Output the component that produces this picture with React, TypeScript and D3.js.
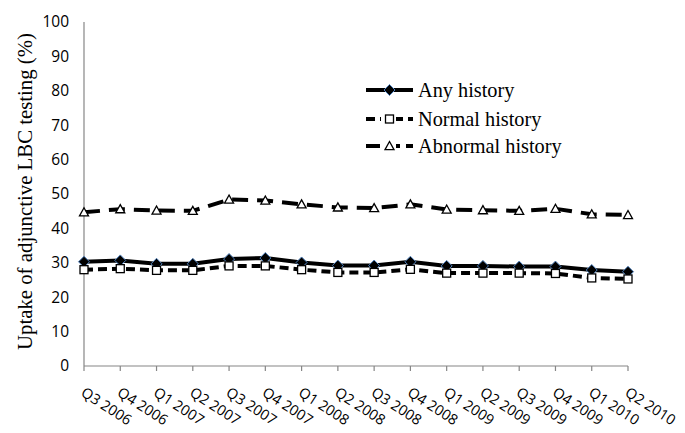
import React from "react";
import * as d3 from "d3";

const quarters = [
  "Q3 2006", "Q4 2006", "Q1 2007", "Q2 2007", "Q3 2007", "Q4 2007", "Q1 2008", "Q2 2008",
  "Q3 2008", "Q4 2008", "Q1 2009", "Q2 2009", "Q3 2009", "Q4 2009", "Q1 2010", "Q2 2010",
];
const anyHistory = [30.3, 30.7, 29.7, 29.7, 31.1, 31.4, 30.1, 29.2, 29.2, 30.3, 29.1, 29.1, 28.9, 28.9, 27.9, 27.4];
const normalHistory = [28.0, 28.3, 27.8, 27.8, 29.1, 29.1, 28.0, 27.2, 27.2, 28.1, 27.0, 27.0, 27.0, 26.9, 25.6, 25.3];
const abnormalHistory = [44.7, 45.6, 45.2, 45.1, 48.4, 48.1, 47.0, 46.1, 45.9, 47.0, 45.5, 45.3, 45.1, 45.7, 44.1, 43.9];
const yTicks = [0, 10, 20, 30, 40, 50, 60, 70, 80, 90, 100];
const seriesNames = ["Any history", "Normal history", "Abnormal history"];

const W = 685, H = 433;
const left = 84, right = 628, top = 22, bottom = 366;

export default function App() {
  const x = d3.scalePoint<string>().domain(quarters).range([left, right]);
  const y = d3.scaleLinear().domain([0, 100]).range([bottom, top]);
  const line = d3.line<number>().x((_, i) => x(quarters[i])!).y((d) => y(d));
  const axisColor = "#868686";
  const sans = "'Open Sans', 'Noto Sans', sans-serif";
  const serif = "'Liberation Serif', 'Times New Roman', serif";

  const series = [
    { name: seriesNames[0], data: anyHistory, dash: "none", marker: "diamond" },
    { name: seriesNames[1], data: normalHistory, dash: "9,5", marker: "square" },
    { name: seriesNames[2], data: abnormalHistory, dash: "16,9", marker: "triangle" },
  ];

  const marker = (type: string, cx: number, cy: number, key: string | number) => {
    if (type === "diamond") {
      const s = 5.5;
      return (
        <path key={key} d={`M${cx},${cy - s}L${cx + s},${cy}L${cx},${cy + s}L${cx - s},${cy}Z`}
          fill="#000" stroke="#4f81bd" strokeWidth={1} />
      );
    }
    if (type === "square") {
      const s = 4;
      return <rect key={key} x={cx - s} y={cy - s} width={2 * s} height={2 * s} fill="#fff" stroke="#000" strokeWidth={1.3} />;
    }
    const s = 4.5;
    return (
      <path key={key} d={`M${cx},${cy - s}L${cx + s},${cy + s * 0.8}L${cx - s},${cy + s * 0.8}Z`}
        fill="#fff" stroke="#000" strokeWidth={1.3} />
    );
  };

  const legendY = [90, 119, 146];

  return (
    <svg width={W} height={H} style={{ position: "absolute", left: 0, top: 0, background: "#fff" }}>
      <rect width={W} height={H} fill="#fff" />
      {/* axes */}
      <line x1={left} x2={left} y1={top} y2={bottom} stroke={axisColor} strokeWidth={1.2} />
      <line x1={left} x2={right} y1={bottom} y2={bottom} stroke={axisColor} strokeWidth={1.2} />
      {quarters.map((q) => (
        <line key={q} x1={x(q)} x2={x(q)} y1={bottom} y2={bottom + 5} stroke={axisColor} strokeWidth={1.2} />
      ))}
      {yTicks.map((t) => (
        <text key={t} x={69} y={y(t)} dy="0.35em" textAnchor="end" fontFamily={sans} fontSize={15.5} fill="#000">
          {t}
        </text>
      ))}
      {quarters.map((q) => (
        <text key={q} transform={`translate(${x(q)! - 4},${395}) rotate(33)`} fontFamily={sans} fontSize={14.5} fill="#000">
          {q}
        </text>
      ))}
      <text transform={`translate(32,191.5) rotate(-90)`} textAnchor="middle" fontFamily={serif} fontSize={20.8} fill="#000">
        Uptake of adjunctive LBC testing (%)
      </text>
      {/* series */}
      {series.map((s) => (
        <g key={s.name}>
          <path d={line(s.data)!} fill="none" stroke="#000" strokeWidth={4} strokeDasharray={s.dash} />
          {s.data.map((v, i) => marker(s.marker, x(quarters[i])!, y(v), i))}
        </g>
      ))}
      {/* legend */}
      {series.map((s, i) => (
        <g key={s.name}>
          <line x1={366} x2={413} y1={legendY[i]} y2={legendY[i]} stroke="#000" strokeWidth={4}
            strokeDasharray={i === 0 ? "none" : i === 1 ? "9,5" : "14,6"} />
          {i > 0 && <rect x={381} y={legendY[i] - 4} width={15} height={8} fill="#fff" />}
          {marker(s.marker, 389.5, legendY[i], "m")}
          <text x={418} y={legendY[i]} dy="0.33em" fontFamily={serif} fontSize={20.3} fill="#000">
            {s.name}
          </text>
        </g>
      ))}
    </svg>
  );
}
